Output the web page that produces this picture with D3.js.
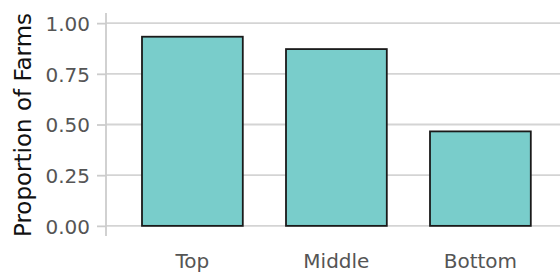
<!DOCTYPE html>
<html>
<head>
<meta charset="utf-8">
<script src="https://cdn.jsdelivr.net/npm/d3@7"></script>
<style>
  body { margin: 0; background: #fff; }
  text { font-family: "DejaVu Sans", sans-serif; }
</style>
</head>
<body>
<svg id="chart" width="560" height="275"></svg>
<script>
var categories = ["Top", "Middle", "Bottom"];
var proportions = [0.933, 0.872, 0.466];
var yTicks = [0, 0.25, 0.5, 0.75, 1];

var svg = d3.select("#chart");
var width = +svg.attr("width");

var panel = { left: 106, top: 13, bottom: 236 };

var x = d3.scaleBand()
    .domain(categories)
    .range([panel.left, panel.left + 144 * 3.2])
    .paddingInner(0.3)
    .paddingOuter(0.25);

var y = d3.scaleLinear()
    .domain([-0.05, 1.05])
    .range([panel.bottom, panel.top]);

// horizontal grid
svg.append("g")
    .selectAll("line")
    .data(yTicks)
    .enter().append("line")
    .attr("x1", panel.left)
    .attr("x2", width)
    .attr("y1", function (d) { return y(d); })
    .attr("y2", function (d) { return y(d); })
    .attr("stroke", "#d4d4d4")
    .attr("stroke-width", 1.8);

// bars
svg.append("g")
    .selectAll("rect")
    .data(proportions)
    .enter().append("rect")
    .attr("x", function (d, i) { return x(categories[i]); })
    .attr("width", x.bandwidth())
    .attr("y", function (d) { return y(d); })
    .attr("height", function (d) { return y(0) - y(d); })
    .attr("fill", "#79cdcb")
    .attr("stroke", "#1a1a1a")
    .attr("stroke-width", 1.8);

// y axis
var yAxis = svg.append("g")
    .attr("transform", "translate(" + panel.left + ",0)")
    .call(d3.axisLeft(y).tickValues(yTicks).tickFormat(d3.format(".2f")).tickSize(9).tickPadding(7));

yAxis.select(".domain")
    .attr("d", "M0," + panel.top + "V" + panel.bottom)
    .attr("stroke", "#cccccc")
    .attr("stroke-width", 1.8);
yAxis.selectAll(".tick line")
    .attr("stroke", "#cccccc")
    .attr("stroke-width", 1.8);
yAxis.selectAll(".tick text")
    .attr("fill", "#555555")
    .attr("font-size", 20)
    .attr("dy", "0.36em");

// x labels
svg.append("g")
    .selectAll("text")
    .data(categories)
    .enter().append("text")
    .attr("x", function (d) { return x(d) + x.bandwidth() / 2; })
    .attr("y", 268)
    .attr("text-anchor", "middle")
    .attr("fill", "#555555")
    .attr("font-size", 20)
    .text(function (d) { return d; });

// y title
svg.append("text")
    .attr("transform", "translate(31," + 125 + ")rotate(-90)")
    .attr("text-anchor", "middle")
    .attr("fill", "#111111")
    .attr("font-size", 23)
    .text("Proportion of Farms");
</script>
</body>
</html>
